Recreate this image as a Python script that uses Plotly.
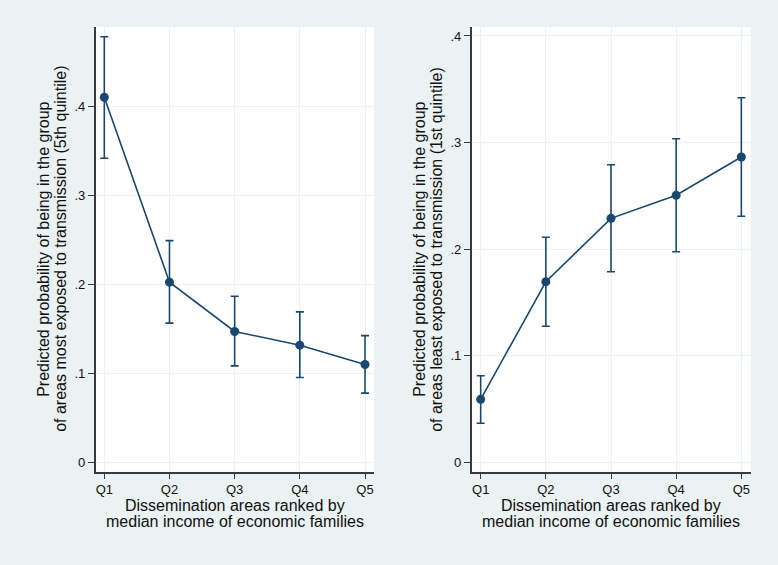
import plotly.graph_objects as go

categories = ["Q1", "Q2", "Q3", "Q4", "Q5"]
xpos = [1, 2, 3, 4, 5]

most_est = [0.4106, 0.2025, 0.147, 0.1316, 0.1098]
most_hi = [0.4788, 0.2493, 0.1867, 0.1691, 0.1424]
most_lo = [0.342, 0.1564, 0.1083, 0.0952, 0.0776]

least_est = [0.0591, 0.1694, 0.2289, 0.2505, 0.2864]
least_hi = [0.0812, 0.2111, 0.2792, 0.3036, 0.342]
least_lo = [0.0366, 0.1276, 0.1788, 0.1976, 0.2308]

left_ticks = [0, 0.1, 0.2, 0.3, 0.4]
left_ticktext = ["0", ".1", ".2", ".3", ".4"]

W, H = 778, 565
BG = "#eaf2f3"
NAVY = "#1a476f"
FONT = "'Liberation Sans', Arial, sans-serif"

fig = go.Figure()


def add_series(est, hi, lo, xa, ya):
    fig.add_trace(go.Scatter(
        x=xpos, y=est, mode="lines+markers",
        line=dict(color=NAVY, width=1.6),
        marker=dict(color=NAVY, size=9),
        error_y=dict(type="data", symmetric=False,
                     array=[h - e for h, e in zip(hi, est)],
                     arrayminus=[e - l for e, l in zip(est, lo)],
                     color=NAVY, thickness=1.6, width=4),
        xaxis=xa, yaxis=ya, showlegend=False, hoverinfo="skip"))


add_series(most_est, most_hi, most_lo, "x", "y")
add_series(least_est, least_hi, least_lo, "x2", "y2")

# pixel geometry
L1, R1 = 95.7, 374.0
L2, R2 = 471.7, 750.7
TOP, BOT = 27.0, 471.7


def px(x):
    return x / W


def py(y):
    return 1 - y / H


common_x = dict(tickmode="array", tickvals=xpos, ticktext=categories,
                showgrid=True, gridcolor=BG, gridwidth=1,
                showline=True, linecolor="#3a3a3a", linewidth=1.6,
                ticks="outside", ticklen=5, tickcolor="#3a3a3a", tickwidth=1.2,
                tickfont=dict(family=FONT, size=13, color="#111"),
                zeroline=False, fixedrange=True)
common_y = dict(tickmode="array", tickvals=left_ticks, ticktext=left_ticktext,
                showgrid=True, gridcolor=BG, gridwidth=1,
                showline=True, linecolor="#3a3a3a", linewidth=1.6,
                ticks="outside", ticklen=6, tickcolor="#3a3a3a", tickwidth=1.2,
                tickfont=dict(family=FONT, size=13, color="#111"),
                zeroline=False, fixedrange=True)

fig.update_layout(
    width=W, height=H,
    margin=dict(l=0, r=0, t=0, b=0),
    paper_bgcolor=BG, plot_bgcolor="white",
    xaxis=dict(domain=[px(L1), px(R1)], range=[0.868, 5.138], anchor="y", **common_x),
    yaxis=dict(domain=[py(BOT), py(TOP)], range=[-0.0108, 0.4897], anchor="x", **common_y),
    xaxis2=dict(domain=[px(L2), px(R2)], range=[0.862, 5.144], anchor="y2", **common_x),
    yaxis2=dict(domain=[py(BOT), py(TOP)], range=[-0.0088, 0.4084], anchor="x2", **common_y),
    font=dict(family=FONT),
)

annotations = []
ytitle_left = ["Predicted probability of being in the group",
               "of areas most exposed to transmission (5th quintile)"]
ytitle_right = ["Predicted probability of being in the group",
                "of areas least exposed to transmission (1st quintile)"]
xtitle = ["Dissemination areas ranked by", "median income of economic families"]

ymid = (TOP + BOT) / 2
for xs, lines in ((43.5, ytitle_left), (419.5, ytitle_right)):
    for i, t in enumerate(lines):
        annotations.append(dict(text=t, xref="paper", yref="paper",
                                x=px(xs + 17 * i), y=py(ymid), textangle=-90,
                                showarrow=False, xanchor="center", yanchor="middle",
                                font=dict(family=FONT, size=16, color="#111")))
for (l, r) in ((L1, R1), (L2, R2)):
    for i, t in enumerate(xtitle):
        annotations.append(dict(text=t, xref="paper", yref="paper",
                                x=px((l + r) / 2), y=py(505.5 + 16 * i),
                                showarrow=False, xanchor="center", yanchor="middle",
                                font=dict(family=FONT, size=16, color="#111")))
fig.update_layout(annotations=annotations)

fig.write_html("out.html", config={"displayModeBar": False},
               post_script="document.body.style.margin='0';document.body.style.padding='0';")
